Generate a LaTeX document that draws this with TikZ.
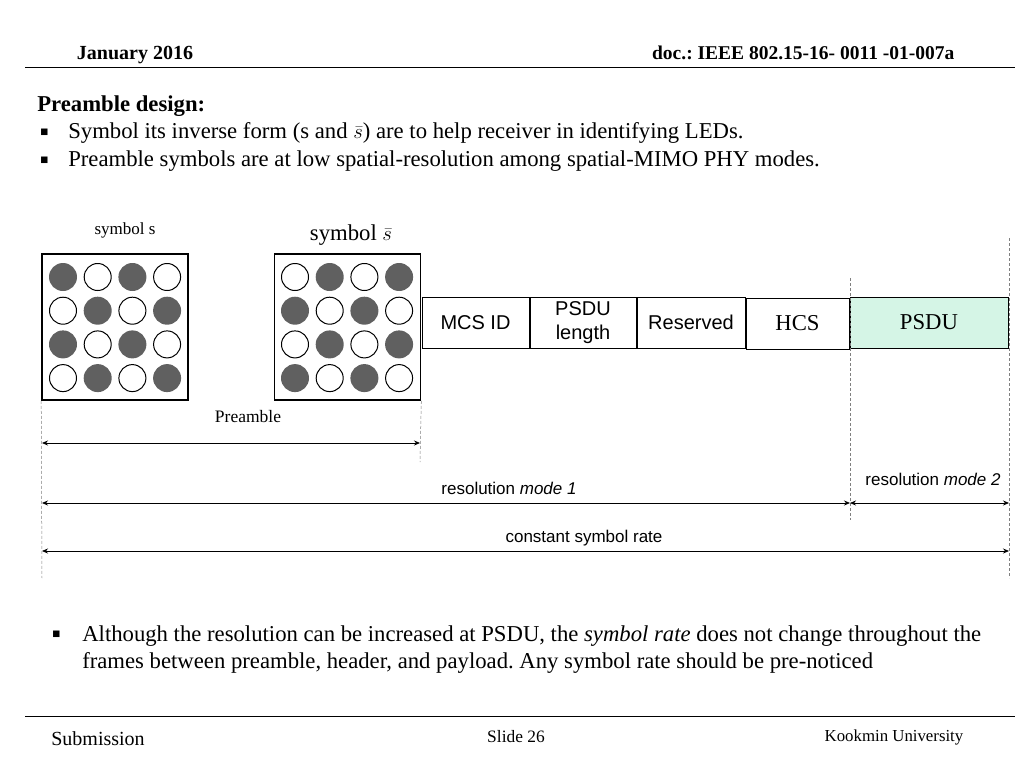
\documentclass[tikz,border=0pt]{standalone}
\usepackage{fontspec}
\setmainfont{Liberation Serif}
\newfontfamily\arialfont{Liberation Sans}
\newfontfamily\symfont{DejaVu Sans}
\usetikzlibrary{positioning,arrows.meta}
\definecolor{psdugreen}{RGB}{213,245,230}
\definecolor{ledgray}{RGB}{96,96,96}
\newcommand{\bul}{{\symfont\fontsize{8.5}{9}\selectfont ■}}
\frenchspacing

\begin{document}
\begin{tikzpicture}[x=1pt,y=-1pt,>={Stealth[length=6pt,width=5pt]},line width=0.6pt,
    frame/.style={draw,line width=1.6pt,minimum size=146pt,inner sep=0pt},
    field/.style={draw,line width=1pt,minimum height=51pt,inner sep=0pt,align=center},
    guide/.style={draw=gray,line width=0.5pt,dash pattern=on 3pt off 2pt},
    span/.style={<->,line width=0.8pt},
    lbl/.style={font=\arialfont\fontsize{17}{19}\selectfont},
    body/.style={font=\fontsize{22.7}{27}\selectfont,anchor=west,inner sep=0pt}]
    \useasboundingbox (0,0) rectangle (1024,768);
    % slide header and footer
    \draw[line width=1pt] (25,67) -- (1015,67);
    \draw[line width=1pt] (25,716) -- (1015,716);
    \node[font=\bfseries\fontsize{20}{22}\selectfont] (date) at (135,55) {January 2016};
    \node[font=\bfseries\fontsize{19.5}{22}\selectfont,anchor=east] (doc) at (958,53) {doc.: IEEE 802.15-16- 0011 -01-007a};
    \node[font=\fontsize{20}{22}\selectfont] (sub) at (98,739) {Submission};
    \node[font=\fontsize{17.4}{19}\selectfont] (slide) at (516,737) {Slide 26};
    \node[font=\fontsize{16.8}{19}\selectfont] (univ) at (894,737) {Kookmin University};
    % text
    \node[body,font=\bfseries\fontsize{22.7}{27}\selectfont] (title) at (37,106) {Preamble design:};
    \node[anchor=west,inner sep=0pt] (b1) at (40,132) {\bul};
    \node[body] (t1) at (68,133) {Symbol its inverse form (s and $\bar{s}$) are to help receiver in identifying LEDs.};
    \node[anchor=west,inner sep=0pt] (b2) at (40,160) {\bul};
    \node[body] (t2) at (68,161) {Preamble symbols are at low spatial-resolution among spatial-MIMO PHY modes.};
    \node[anchor=west,inner sep=0pt] (b3) at (52,634) {\bul};
    \node[body,anchor=north west,align=left] (t3) at (82,625) {Although the resolution can be increased at PSDU, the \textit{symbol rate} does not change throughout the\\frames between preamble, header, and payload. Any symbol rate should be pre-noticed};
    % symbols
    \node[frame] (s) at (115,327) {};
    \node[frame] (sbar) at (347.5,327) {};
    \node[font=\fontsize{17}{19}\selectfont] (slbl) at (125,230) {symbol s};
    \node[font=\fontsize{22.7}{25}\selectfont] (sbarlbl) at (351,235) {symbol $\bar{s}$};
    \foreach \i in {0,...,3}
        \foreach \j in {0,...,3}{
            \pgfmathtruncatemacro{\parity}{mod(\i+\j,2)}
            \ifnum\parity=0
                \fill[ledgray] (63+34.7*\i,277+33.7*\j) circle (14);
                \draw[line width=1pt] (295+34.7*\i,277+33.7*\j) circle (13.5);
            \else
                \draw[line width=1pt] (63+34.7*\i,277+33.7*\j) circle (13.5);
                \fill[ledgray] (295+34.7*\i,277+33.7*\j) circle (14);
            \fi
        }
    % header fields
    \node[field,minimum width=107pt,font=\arialfont\fontsize{20}{23}\selectfont] (mcs) at (475.5,322.5) {MCS ID};
    \node[field,minimum width=106pt,right=0pt of mcs,font=\arialfont\fontsize{20}{24}\selectfont] (len) {PSDU\\length};
    \node[field,minimum width=108pt,right=0pt of len,font=\arialfont\fontsize{20}{23}\selectfont] (res) {Reserved};
    \node[field,minimum width=103pt,right=0pt of res,yshift=-1pt,font=\fontsize{22.7}{25}\selectfont] (hcs) {HCS};
    \node[field,minimum width=158pt,right=0pt of hcs,yshift=1pt,fill=psdugreen,font=\fontsize{22.7}{25}\selectfont] (psdu) {PSDU};
    % guides
    \coordinate (g1) at (42,578);
    \coordinate (g2) at (420,462);
    \coordinate (g3t) at (850,278);
    \coordinate (g3b) at (850,520);
    \coordinate (g4t) at (1009,238);
    \coordinate (g4b) at (1009,578);
    \draw[guide] (s.south west) -- (g1);
    \draw[guide] (sbar.south east) -- (g2);
    \draw[guide] (g3t) -- (g3b);
    \draw[guide] (g4t) -- (g4b);
    % spans
    \coordinate (preL) at (42,443);
    \coordinate (preR) at (420,443);
    \coordinate (m1L) at (42,503);
    \coordinate (m1R) at (850,503);
    \coordinate (m2R) at (1009,503);
    \coordinate (rateL) at (42,551);
    \coordinate (rateR) at (1009,551);
    \draw[span] (preL) -- (preR);
    \draw[span] (m1L) -- (m1R);
    \draw[span] (m1R) -- (m2R);
    \draw[span] (rateL) -- (rateR);
    \node[font=\fontsize{17.5}{19}\selectfont] (prelbl) at (248,417) {Preamble};
    \node[lbl] (m1lbl) at (509,488) {resolution \textit{mode 1}};
    \node[lbl] (m2lbl) at (933,479) {resolution \textit{mode 2}};
    \node[lbl] (ratelbl) at (584,538) {constant symbol rate};
\end{tikzpicture}
\end{document}
